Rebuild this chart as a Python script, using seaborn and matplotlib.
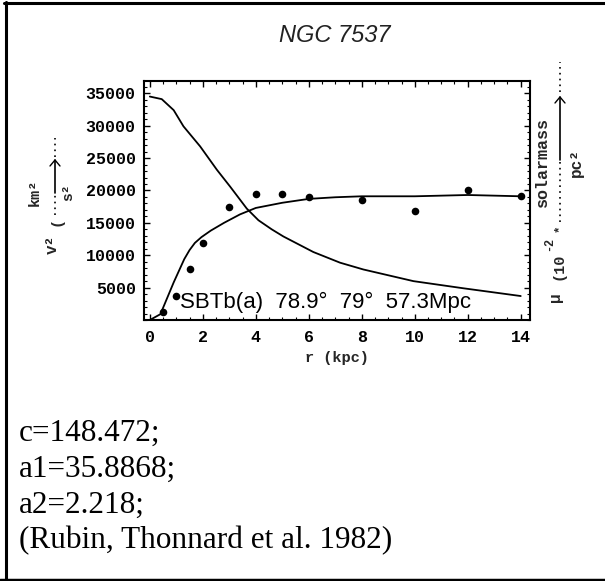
import numpy as np
import pandas as pd
import matplotlib
matplotlib.use("Agg")
import matplotlib.pyplot as plt
import seaborn as sns
from matplotlib.lines import Line2D
from matplotlib.ticker import MultipleLocator

# ---- data ----
r_obs = [0.5, 1, 1.5, 2, 3, 4, 5, 6, 8, 10, 12, 14]
v2_obs = [1250, 3700, 7900, 11900, 17450, 19500, 19500, 18950, 18580, 16800, 20120, 19200]

r_fit = [0, 0.4, 0.9, 1.3, 1.5, 1.7, 1.95, 2.3, 2.8, 3.4, 4, 5, 6, 7, 8, 10, 12, 14]
v2_fit = [0, 900, 5800, 9400, 10800, 11900, 12800, 13800, 15000, 16300, 17300, 18100,
          18700, 18950, 19100, 19100, 19300, 19100]

r_mu = [0, 0.45, 0.9, 1.27, 1.9, 2.53, 3.03, 3.66, 4.1, 4.6, 5.04, 6.17, 7.18, 8.06,
        9.95, 11.83, 14]
mu_fit = [34500, 34100, 32400, 29900, 26800, 23200, 20600, 17200, 15400, 14000, 12900,
          10500, 8850, 7800, 6000, 4900, 3700]

x_ticks = [0, 2, 4, 6, 8, 10, 12, 14]
y_ticks = [5000, 10000, 15000, 20000, 25000, 30000, 35000]

title = "NGC 7537"
info = "SBTb(a)  78.9°  79°  57.3Mpc"
notes = ["c=148.472;", "a1=35.8868;", "a2=2.218;", "(Rubin, Thonnard et al. 1982)"]

# ---- figure ----
sns.set_style("white")
W, H = 605, 581
fig = plt.figure(figsize=(W / 100, H / 100), dpi=100)

def P(x, y):
    return (x / W, 1 - y / H)

ax = fig.add_axes([144 / W, 1 - 320 / H, (530 - 144) / W, (320 - 81) / H])

df_obs = pd.DataFrame({"r": r_obs, "v2": v2_obs})
df_fit = pd.DataFrame({"r": r_fit, "v2": v2_fit})
df_mu = pd.DataFrame({"r": r_mu, "mu": mu_fit})

sns.lineplot(data=df_fit, x="r", y="v2", ax=ax, color="black", linewidth=1.3, sort=True)
sns.lineplot(data=df_mu, x="r", y="mu", ax=ax, color="black", linewidth=1.3, sort=True)
sns.scatterplot(data=df_obs, x="r", y="v2", ax=ax, color="black", s=30,
                marker="o", edgecolor="black", linewidth=0, zorder=5)

ax.set_xlim(-0.22, 14.35)
ax.set_ylim(0, 36900)
ax.set_xlabel("")
ax.set_ylabel("")

mono = "Liberation Mono"
ax.set_xticks(x_ticks)
ax.set_xticklabels([str(t) for t in x_ticks], fontfamily=mono, fontweight="bold", fontsize=12)
ax.set_yticks(y_ticks)
ax.set_yticklabels([str(t) for t in y_ticks], fontfamily=mono, fontweight="bold", fontsize=12)
ax.xaxis.set_minor_locator(MultipleLocator(0.5))
ax.yaxis.set_minor_locator(MultipleLocator(1000))
ax.tick_params(which="major", direction="in", length=4, width=1, top=True, right=True,
               bottom=True, left=True, colors="black", pad=6)
ax.tick_params(which="minor", direction="in", length=2, width=0.8, top=True, right=True,
               bottom=True, left=True, colors="black")
ax.tick_params(axis="x", which="major", pad=7)
for s in ax.spines.values():
    s.set_visible(True)
    s.set_color("black")
    s.set_linewidth(1.5)

ax.text(1.14, 2780, info, fontfamily="Liberation Sans", fontsize=16, va="center",
        ha="left", color="black")

# title
fig.text(*P(335, 36), title, ha="center", va="center", fontsize=17,
         fontstyle="italic", fontfamily="Liberation Sans", color="#222222")

# x label
fig.text(*P(337, 358), "r (kpc)", ha="center", va="center", fontfamily=mono,
         fontweight="bold", fontsize=11)

# left y label (rotated pieces)
lab = dict(fontfamily=mono, fontweight="bold", rotation=90, ha="center", va="center")
fig.text(*P(52, 244), "v²", fontsize=11.5, **lab)
fig.text(*P(56, 221), "(", fontsize=11, **lab)
fig.text(*P(35, 192), "km²", fontsize=11, **lab)
fig.text(*P(68, 192), "s²", fontsize=10.5, **lab)
fig.add_artist(Line2D([55 / W, 55 / W], [1 - 215 / H, 1 - 193 / H], color="black",
                      linestyle=(0, (1, 2.5)), linewidth=1.2))
fig.add_artist(Line2D([55 / W, 55 / W], [1 - 193 / H, 1 - 160 / H], color="black", linewidth=1.2))
fig.add_artist(Line2D([55 / W, 55 / W], [1 - 157 / H, 1 - 138 / H], color="black",
                      linestyle=(0, (1, 2.5)), linewidth=1.2))
fig.add_artist(Line2D([50 / W, 55 / W, 60 / W], [1 - 166 / H, 1 - 160 / H, 1 - 166 / H],
                      color="black", linewidth=1.0))

# right label (rotated pieces)
fig.text(*P(556, 297), "μ", fontsize=11.5, **lab)
fig.text(*P(558, 266), "(10", fontsize=11, **lab)
fig.text(*P(549, 244), "-2", fontsize=8.5, **lab)
fig.text(*P(559, 228), "*", fontsize=9, **lab)
fig.text(*P(542, 162), "solarmass", fontsize=12, **lab)
fig.text(*P(576, 163), "pc²", fontsize=11.5, **lab)
fig.add_artist(Line2D([560 / W, 560 / W], [1 - 222 / H, 1 - 160 / H], color="black",
                      linestyle=(0, (1, 2.5)), linewidth=1.2))
fig.add_artist(Line2D([560 / W, 560 / W], [1 - 160 / H, 1 - 97 / H], color="black", linewidth=1.2))
fig.add_artist(Line2D([560 / W, 560 / W], [1 - 92 / H, 1 - 62 / H], color="black",
                      linestyle=(0, (1, 2.5)), linewidth=1.2))
fig.add_artist(Line2D([555 / W, 560 / W, 565 / W], [1 - 103 / H, 1 - 97 / H, 1 - 103 / H],
                      color="black", linewidth=1.0))

# notes
for i, t in enumerate(notes):
    fig.text(*P(19, 433 + 36 * i), t, ha="left", va="center",
             fontfamily="Liberation Serif", fontsize=22.5, color="black")

# frame borders (left, top, bottom)
fig.add_artist(Line2D([5.5 / W, 5.5 / W], [0, 1 - 2 / H], color="black", linewidth=2.2))
fig.add_artist(Line2D([4 / W, 1], [1 - 3 / H, 1 - 3 / H], color="black", linewidth=2.2))
fig.add_artist(Line2D([0, 1], [1 - 579.5 / H, 1 - 579.5 / H], color="black", linewidth=2.5))

fig.savefig("out.png", dpi=100, facecolor="white")
